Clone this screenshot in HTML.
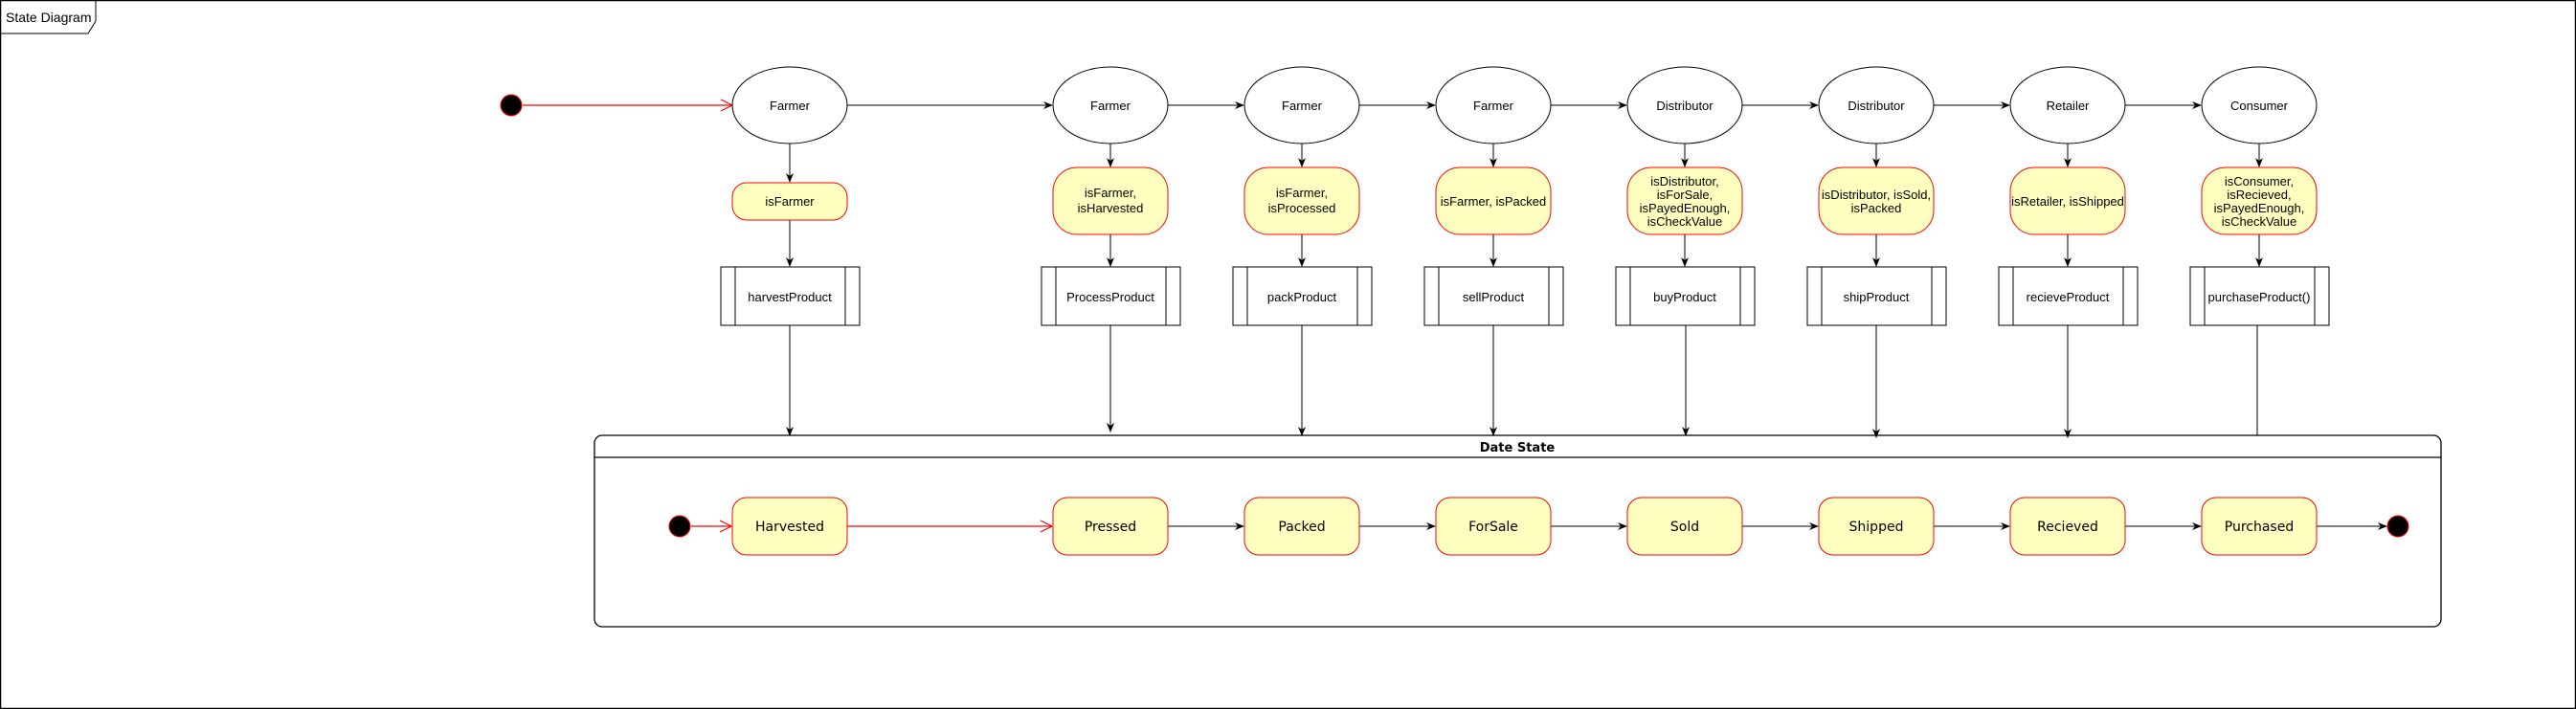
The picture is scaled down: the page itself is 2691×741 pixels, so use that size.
<!DOCTYPE html>
<html><head><meta charset="utf-8"><style>
html,body{margin:0;padding:0;background:#fff;}
svg{display:block;}
.t{font-family:"Liberation Sans",Arial,sans-serif;font-size:13px;fill:#000;text-anchor:middle;}
.d{font-family:"DejaVu Sans",sans-serif;font-size:14px;fill:#000;text-anchor:middle;}
</style></head><body>
<svg width="2691" height="741" viewBox="0 0 2691 741" xmlns="http://www.w3.org/2000/svg">
<defs>
<marker id="a" markerWidth="10" markerHeight="10" refX="9" refY="5" orient="auto" markerUnits="userSpaceOnUse"><path d="M0,1 L10,5 L0,9 L3,5 Z" fill="#000"/></marker>
<marker id="r" markerWidth="14" markerHeight="14" refX="13" refY="7" orient="auto" markerUnits="userSpaceOnUse"><path d="M1,1 L13,7 L1,13" fill="none" stroke="#f00" stroke-width="1.2"/></marker>
</defs>
<rect x="0.5" y="0.5" width="2690" height="740" fill="#fff" stroke="#000" stroke-width="1.5"/>
<path d="M0.5,35 H92 L100,22 V0.5" fill="none" stroke="#000" stroke-width="1"/>
<text x="6" y="23" style="font-family:'Liberation Sans',sans-serif;font-size:14px;">State Diagram</text>

<circle cx="534" cy="110" r="11" fill="#000" stroke="#f00"/>
<line x1="546" y1="110" x2="765" y2="110" stroke="#f00" stroke-width="1.2" marker-end="url(#r)"/>

<g fill="none" stroke="#000" stroke-width="1">
<line x1="885" y1="110" x2="1099" y2="110" marker-end="url(#a)"/>
<line x1="1220" y1="110" x2="1299" y2="110" marker-end="url(#a)"/>
<line x1="1420" y1="110" x2="1499" y2="110" marker-end="url(#a)"/>
<line x1="1620" y1="110" x2="1699" y2="110" marker-end="url(#a)"/>
<line x1="1820" y1="110" x2="1899" y2="110" marker-end="url(#a)"/>
<line x1="2020" y1="110" x2="2099" y2="110" marker-end="url(#a)"/>
<line x1="2220" y1="110" x2="2299" y2="110" marker-end="url(#a)"/>
</g>

<g>
<ellipse cx="825" cy="110" rx="60" ry="40" fill="#fff" stroke="#000"/>
<ellipse cx="1160" cy="110" rx="60" ry="40" fill="#fff" stroke="#000"/>
<ellipse cx="1360" cy="110" rx="60" ry="40" fill="#fff" stroke="#000"/>
<ellipse cx="1560" cy="110" rx="60" ry="40" fill="#fff" stroke="#000"/>
<ellipse cx="1760" cy="110" rx="60" ry="40" fill="#fff" stroke="#000"/>
<ellipse cx="1960" cy="110" rx="60" ry="40" fill="#fff" stroke="#000"/>
<ellipse cx="2160" cy="110" rx="60" ry="40" fill="#fff" stroke="#000"/>
<ellipse cx="2360" cy="110" rx="60" ry="40" fill="#fff" stroke="#000"/>
</g>
<text class="t" x="825" y="115">Farmer</text>
<text class="t" x="1160" y="115">Farmer</text>
<text class="t" x="1360" y="115">Farmer</text>
<text class="t" x="1560" y="115">Farmer</text>
<text class="t" x="1760" y="115">Distributor</text>
<text class="t" x="1960" y="115">Distributor</text>
<text class="t" x="2160" y="115">Retailer</text>
<text class="t" x="2360" y="115">Consumer</text>

<g stroke="#000" stroke-width="1" fill="none">
<line x1="825" y1="150" x2="825" y2="190" marker-end="url(#a)"/>
<line x1="825" y1="230" x2="825" y2="278" marker-end="url(#a)"/>
<line x1="825" y1="340" x2="825" y2="455" marker-end="url(#a)"/>
<line x1="1160" y1="150" x2="1160" y2="174" marker-end="url(#a)"/>
<line x1="1160" y1="245" x2="1160" y2="278" marker-end="url(#a)"/>
<line x1="1160" y1="340" x2="1160" y2="451" marker-end="url(#a)"/>
<line x1="1360" y1="150" x2="1360" y2="174" marker-end="url(#a)"/>
<line x1="1360" y1="245" x2="1360" y2="278" marker-end="url(#a)"/>
<line x1="1360" y1="340" x2="1360" y2="455" marker-end="url(#a)"/>
<line x1="1560" y1="150" x2="1560" y2="174" marker-end="url(#a)"/>
<line x1="1560" y1="245" x2="1560" y2="278" marker-end="url(#a)"/>
<line x1="1560" y1="340" x2="1560" y2="455" marker-end="url(#a)"/>
<line x1="1760" y1="150" x2="1760" y2="174" marker-end="url(#a)"/>
<line x1="1760" y1="245" x2="1760" y2="278" marker-end="url(#a)"/>
<line x1="1761" y1="340" x2="1761" y2="455" marker-end="url(#a)"/>
<line x1="1960" y1="150" x2="1960" y2="174" marker-end="url(#a)"/>
<line x1="1960" y1="245" x2="1960" y2="278" marker-end="url(#a)"/>
<line x1="1960" y1="340" x2="1960" y2="457" marker-end="url(#a)"/>
<line x1="2160" y1="150" x2="2160" y2="174" marker-end="url(#a)"/>
<line x1="2160" y1="245" x2="2160" y2="278" marker-end="url(#a)"/>
<line x1="2160" y1="340" x2="2160" y2="457" marker-end="url(#a)"/>
<line x1="2360" y1="150" x2="2360" y2="174" marker-end="url(#a)"/>
<line x1="2360" y1="245" x2="2360" y2="278" marker-end="url(#a)"/>
<line x1="2358" y1="340" x2="2358" y2="455"/>
</g>

<g fill="#ffffc0" stroke="#f00" stroke-width="1">
<rect x="765" y="191" width="120" height="39" rx="15"/>
<rect x="1100" y="175" width="120" height="70" rx="25"/>
<rect x="1300" y="175" width="120" height="70" rx="25"/>
<rect x="1500" y="175" width="120" height="70" rx="25"/>
<rect x="1700" y="175" width="120" height="70" rx="25"/>
<rect x="1900" y="175" width="120" height="70" rx="25"/>
<rect x="2100" y="175" width="120" height="70" rx="25"/>
<rect x="2300" y="175" width="120" height="70" rx="25"/>
</g>
<text class="t" x="825" y="215">isFarmer</text>
<text class="t" x="1160" y="206">isFarmer,</text><text class="t" x="1160" y="222">isHarvested</text>
<text class="t" x="1360" y="206">isFarmer,</text><text class="t" x="1360" y="222">isProcessed</text>
<text class="t" x="1560" y="215">isFarmer, isPacked</text>
<text class="t" x="1760" y="194">isDistributor,</text><text class="t" x="1760" y="208">isForSale,</text><text class="t" x="1760" y="222">isPayedEnough,</text><text class="t" x="1760" y="236">isCheckValue</text>
<text class="t" x="1960" y="208">isDistributor, isSold,</text><text class="t" x="1960" y="222">isPacked</text>
<text class="t" x="2160" y="215">isRetailer, isShipped</text>
<text class="t" x="2360" y="194">isConsumer,</text><text class="t" x="2360" y="208">isRecieved,</text><text class="t" x="2360" y="222">isPayedEnough,</text><text class="t" x="2360" y="236">isCheckValue</text>

<g fill="#fff" stroke="#000" stroke-width="1">
<rect x="753" y="279" width="145" height="61"/><path d="M768,279V340M883,279V340"/>
<rect x="1088" y="279" width="145" height="61"/><path d="M1103,279V340M1218,279V340"/>
<rect x="1288" y="279" width="145" height="61"/><path d="M1303,279V340M1418,279V340"/>
<rect x="1488" y="279" width="145" height="61"/><path d="M1503,279V340M1618,279V340"/>
<rect x="1688" y="279" width="145" height="61"/><path d="M1703,279V340M1818,279V340"/>
<rect x="1888" y="279" width="145" height="61"/><path d="M1903,279V340M2018,279V340"/>
<rect x="2088" y="279" width="145" height="61"/><path d="M2103,279V340M2218,279V340"/>
<rect x="2288" y="279" width="145" height="61"/><path d="M2303,279V340M2418,279V340"/>
</g>
<text class="t" x="825" y="315">harvestProduct</text>
<text class="t" x="1160" y="315">ProcessProduct</text>
<text class="t" x="1360" y="315">packProduct</text>
<text class="t" x="1560" y="315">sellProduct</text>
<text class="t" x="1760" y="315">buyProduct</text>
<text class="t" x="1960" y="315">shipProduct</text>
<text class="t" x="2160" y="315">recieveProduct</text>
<text class="t" x="2360" y="315">purchaseProduct()</text>

<rect x="621" y="455" width="1929" height="200" rx="8" fill="none" stroke="#000" stroke-width="1.3"/>
<line x1="621" y1="478" x2="2550" y2="478" stroke="#000" stroke-width="1.3"/>
<text class="d" x="1585" y="472" style="font-weight:bold;font-size:13px;">Date State</text>

<circle cx="710" cy="550" r="11" fill="#000" stroke="#f00"/>
<line x1="722" y1="550" x2="764" y2="550" stroke="#f00" stroke-width="1.2" marker-end="url(#r)"/>
<line x1="885" y1="550" x2="1099" y2="550" stroke="#f00" stroke-width="1.2" marker-end="url(#r)"/>
<g stroke="#000" fill="none">
<line x1="1220" y1="550" x2="1299" y2="550" marker-end="url(#a)"/>
<line x1="1420" y1="550" x2="1499" y2="550" marker-end="url(#a)"/>
<line x1="1620" y1="550" x2="1699" y2="550" marker-end="url(#a)"/>
<line x1="1820" y1="550" x2="1899" y2="550" marker-end="url(#a)"/>
<line x1="2020" y1="550" x2="2099" y2="550" marker-end="url(#a)"/>
<line x1="2220" y1="550" x2="2299" y2="550" marker-end="url(#a)"/>
<line x1="2420" y1="550" x2="2493" y2="550" marker-end="url(#a)"/>
</g>
<circle cx="2505" cy="550" r="11" fill="#000" stroke="#f00"/>
<g fill="#ffffc0" stroke="#f00" stroke-width="1">
<rect x="765" y="520" width="120" height="60" rx="15"/>
<rect x="1100" y="520" width="120" height="60" rx="15"/>
<rect x="1300" y="520" width="120" height="60" rx="15"/>
<rect x="1500" y="520" width="120" height="60" rx="15"/>
<rect x="1700" y="520" width="120" height="60" rx="15"/>
<rect x="1900" y="520" width="120" height="60" rx="15"/>
<rect x="2100" y="520" width="120" height="60" rx="15"/>
<rect x="2300" y="520" width="120" height="60" rx="15"/>
</g>
<text class="d" x="825" y="555">Harvested</text>
<text class="d" x="1160" y="555">Pressed</text>
<text class="d" x="1360" y="555">Packed</text>
<text class="d" x="1560" y="555">ForSale</text>
<text class="d" x="1760" y="555">Sold</text>
<text class="d" x="1960" y="555">Shipped</text>
<text class="d" x="2160" y="555">Recieved</text>
<text class="d" x="2360" y="555">Purchased</text>
</svg>
</body></html>
